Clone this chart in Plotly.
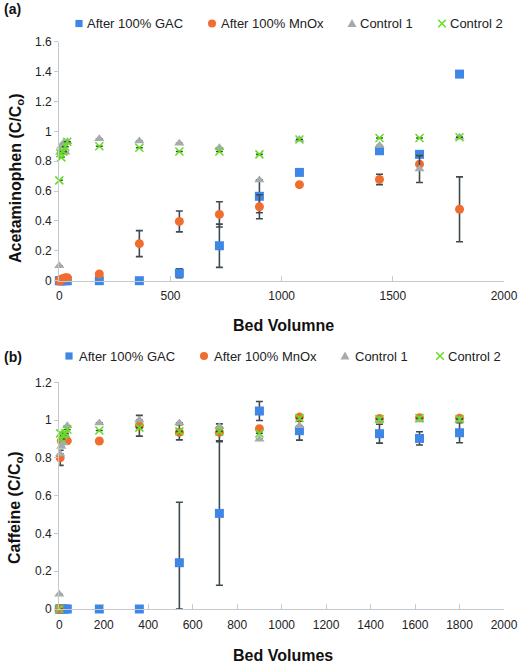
import plotly.graph_objects as go

W, H = 520, 664
def PX(x): return x / W
def PY(y): return 1 - y / H

series_names = ["After 100% GAC", "After 100% MnOx", "Control 1", "Control 2"]
colors = ["#3f87e6", "#f26c2f", "#a6acac", "#66dd22"]
symbols = ["square", "circle", "triangle-up", "x-thin"]

# ---------- Panel (a): Acetaminophen ----------
bv_a = [0, 4, 9, 18, 27, 36, 180, 360, 540, 720, 900, 1080, 1440, 1620, 1800]
gac_a = [0, 0, 0, 0, 0, 0, 0, 0, 0.05, 0.234, 0.565, 0.725, 0.87, 0.846, 1.383]
mnox_a = [0, 0, 0.01, 0.015, 0.02, 0.02, 0.045, 0.248, 0.397, 0.444, 0.495, 0.643, 0.678, 0.78, 0.478]
ctrl1_a = [0.10, 0.86, 0.90, 0.92, 0.86, 0.93, 0.95, 0.935, 0.92, 0.89, 0.674, 0.945, 0.905, 0.747, 0.96]
ctrl2_a = [0.672, 0.853, 0.826, 0.864, 0.897, 0.93, 0.90, 0.89, 0.865, 0.865, 0.846, 0.945, 0.955, 0.955, 0.96]
gac_a_err = [None]*8 + [0.03, 0.145, 0.11, None, None, None, None]
mnox_a_err = [None]*7 + [0.087, 0.07, 0.085, 0.08, None, 0.035, None, 0.217]
ctrl1_a_err = [None]*13 + [0.09, None]
ctrl2_a_err = [None]*15

# ---------- Panel (b): Caffeine ----------
bv_b = [0, 4, 9, 18, 27, 36, 180, 360, 540, 720, 900, 1080, 1440, 1620, 1800]
gac_b = [0, 0, 0, 0, 0, 0, 0, 0, 0.245, 0.506, 1.048, 0.944, 0.928, 0.903, 0.933]
mnox_b = [0, 0.80, 0.89, 0.90, 0.89, 0.89, 0.889, 0.97, 0.935, 0.935, 0.954, 1.016, 1.008, 1.012, 1.01]
ctrl1_b = [0.078, 0.82, 0.86, 0.88, 0.92, 0.97, 0.985, 1.0, 0.985, 0.965, 0.898, 0.97, 1.0, 1.0, 1.0]
ctrl2_b = [0, 0.93, 0.90, 0.92, 0.93, 0.95, 0.945, 0.96, 0.94, 0.94, 0.93, 1.01, 1.005, 1.01, 1.005]
gac_b_err_plus = [None]*8 + [0.32, 0.38, 0.05, 0.05, 0.05, 0.035, 0.053]
gac_b_err_minus = [None]*8 + [0.245, 0.38, 0.05, 0.05, 0.05, 0.035, 0.053]
mnox_b_err = [None, 0.04, None, None, None, None, None, 0.055, 0.04, 0.045, None, None, None, None, None]
ctrl1_b_err = [None]*15
ctrl2_b_err = [None]*15

fig = go.Figure()

err_color = "#3e4a4f"

def add(x, y, i, xa, ya, err_plus, err_minus=None):
    eb = dict(type="data", array=err_plus, visible=True, color=err_color,
              thickness=1.6, width=3.5)
    if err_minus is not None:
        eb["symmetric"] = False
        eb["arrayminus"] = err_minus
    mk = dict(symbol=symbols[i], color=colors[i], size=9)
    if symbols[i] == "x-thin":
        mk = dict(symbol="x-thin", size=8, line=dict(color=colors[i], width=1.6), color=colors[i])
    fig.add_trace(go.Scatter(
        x=x, y=y, mode="markers", name=series_names[i], marker=mk,
        error_y=eb, xaxis=xa, yaxis=ya, showlegend=False, cliponaxis=False,
    ))

add(bv_a, gac_a, 0, "x", "y", gac_a_err)
add(bv_a, mnox_a, 1, "x", "y", mnox_a_err)
add(bv_a, ctrl1_a, 2, "x", "y", ctrl1_a_err)
add(bv_a, ctrl2_a, 3, "x", "y", ctrl2_a_err)

add(bv_b, gac_b, 0, "x2", "y2", gac_b_err_plus, gac_b_err_minus)
add(bv_b, mnox_b, 1, "x2", "y2", mnox_b_err)
add(bv_b, ctrl1_b, 2, "x2", "y2", ctrl1_b_err)
add(bv_b, ctrl2_b, 3, "x2", "y2", ctrl2_b_err)

axis_line = "#c3c9cc"
tickfont = dict(family="Liberation Sans, Arial, sans-serif", size=12, color="#222222")

common_x = dict(showgrid=False, zeroline=False, showline=True, linecolor=axis_line,
                linewidth=1.2, ticks="inside", ticklen=5, tickcolor=axis_line,
                tickfont=tickfont, range=[0, 2000], automargin=False, ticklabelstandoff=4)
common_y = dict(showgrid=False, zeroline=False, showline=True, linecolor=axis_line,
                linewidth=1.2, ticks="outside", ticklen=4, tickcolor=axis_line,
                tickfont=tickfont, automargin=False)

xdom = [PX(59.3), PX(504)]

fig.update_layout(
    width=W, height=H, autosize=False,
    margin=dict(l=0, r=0, t=0, b=0, autoexpand=False),
    paper_bgcolor="white", plot_bgcolor="white",
    font=dict(family="Liberation Sans, Arial, sans-serif"),
    xaxis=dict(common_x, domain=xdom, anchor="y", dtick=500),
    yaxis=dict(common_y, domain=[PY(280.7), PY(41.7)], anchor="x", range=[0, 1.6], dtick=0.2),
    xaxis2=dict(common_x, domain=xdom, anchor="y2", dtick=200),
    yaxis2=dict(common_y, domain=[PY(609), PY(382.3)], anchor="x2", range=[0, 1.2], dtick=0.2),
    showlegend=False,
)

# ---- Legend rows (symbol shapes + text), one row per panel ----
legend_rows = [
    dict(y=23.5, sym_x=[79, 212, 352, 442], text_x=[85, 219, 358, 448]),
    dict(y=356, sym_x=[69, 204, 345, 440], text_x=[77, 212, 353, 446]),
]
legend_font = dict(family="Liberation Sans, Arial, sans-serif", size=13, color="#222222")
shapes = []
ann = []
for row in legend_rows:
    yc = row["y"]
    for i, (sx, tx) in enumerate(zip(row["sym_x"], row["text_x"])):
        c = colors[i]
        if symbols[i] == "square":
            shapes.append(dict(type="rect", x0=PX(sx - 3.6), x1=PX(sx + 3.6), y0=PY(yc + 3.6), y1=PY(yc - 3.6),
                               fillcolor=c, line=dict(width=0)))
        elif symbols[i] == "circle":
            shapes.append(dict(type="circle", x0=PX(sx - 4), x1=PX(sx + 4), y0=PY(yc + 4), y1=PY(yc - 4),
                               fillcolor=c, line=dict(width=0)))
        elif symbols[i] == "triangle-up":
            path = "M {} {} L {} {} L {} {} Z".format(PX(sx - 4.5), PY(yc + 3.5), PX(sx + 4.5), PY(yc + 3.5),
                                                      PX(sx), PY(yc - 4.5))
            shapes.append(dict(type="path", path=path, fillcolor=c, line=dict(width=0)))
        else:
            for dy in (-1, 1):
                shapes.append(dict(type="line", x0=PX(sx - 3.8), x1=PX(sx + 3.8),
                                   y0=PY(yc - 3.8 * dy), y1=PY(yc + 3.8 * dy),
                                   line=dict(color=c, width=1.5)))
        ann.append(dict(text=series_names[i], x=PX(tx), y=PY(yc), xanchor="left", yanchor="middle",
                        font=legend_font))
for s in shapes:
    s.update(xref="paper", yref="paper", layer="above")

title_font = dict(family="Liberation Sans, Arial, sans-serif", size=16, color="#111111")
ann += [
    dict(text="<b>(a)</b>", x=PX(2), y=PY(9), xanchor="left", yanchor="middle",
         font=dict(family="Liberation Sans, Arial, sans-serif", size=14, color="#111111")),
    dict(text="<b>(b)</b>", x=PX(2), y=PY(357), xanchor="left", yanchor="middle",
         font=dict(family="Liberation Sans, Arial, sans-serif", size=14, color="#111111")),
    dict(text="<b>Bed Volumne</b>", x=PX(283), y=PY(325), xanchor="center", yanchor="middle", font=title_font),
    dict(text="<b>Bed Volumes</b>", x=PX(283), y=PY(655), xanchor="center", yanchor="middle", font=title_font),
    dict(text="<b>Acetaminophen (C/C<sub>o</sub>)</b>", x=PX(16), y=PY(178), xanchor="center",
         yanchor="middle", textangle=-90, font=title_font),
    dict(text="<b>Caffeine (C/C<sub>o</sub>)</b>", x=PX(15), y=PY(508), xanchor="center",
         yanchor="middle", textangle=-90, font=title_font),
]
for a in ann:
    a.update(xref="paper", yref="paper", showarrow=False)
fig.update_layout(annotations=ann, shapes=shapes)

fig.write_html("out.html", config={"displayModeBar": False},
               post_script="document.body.style.margin='0';document.body.style.overflow='hidden';")
